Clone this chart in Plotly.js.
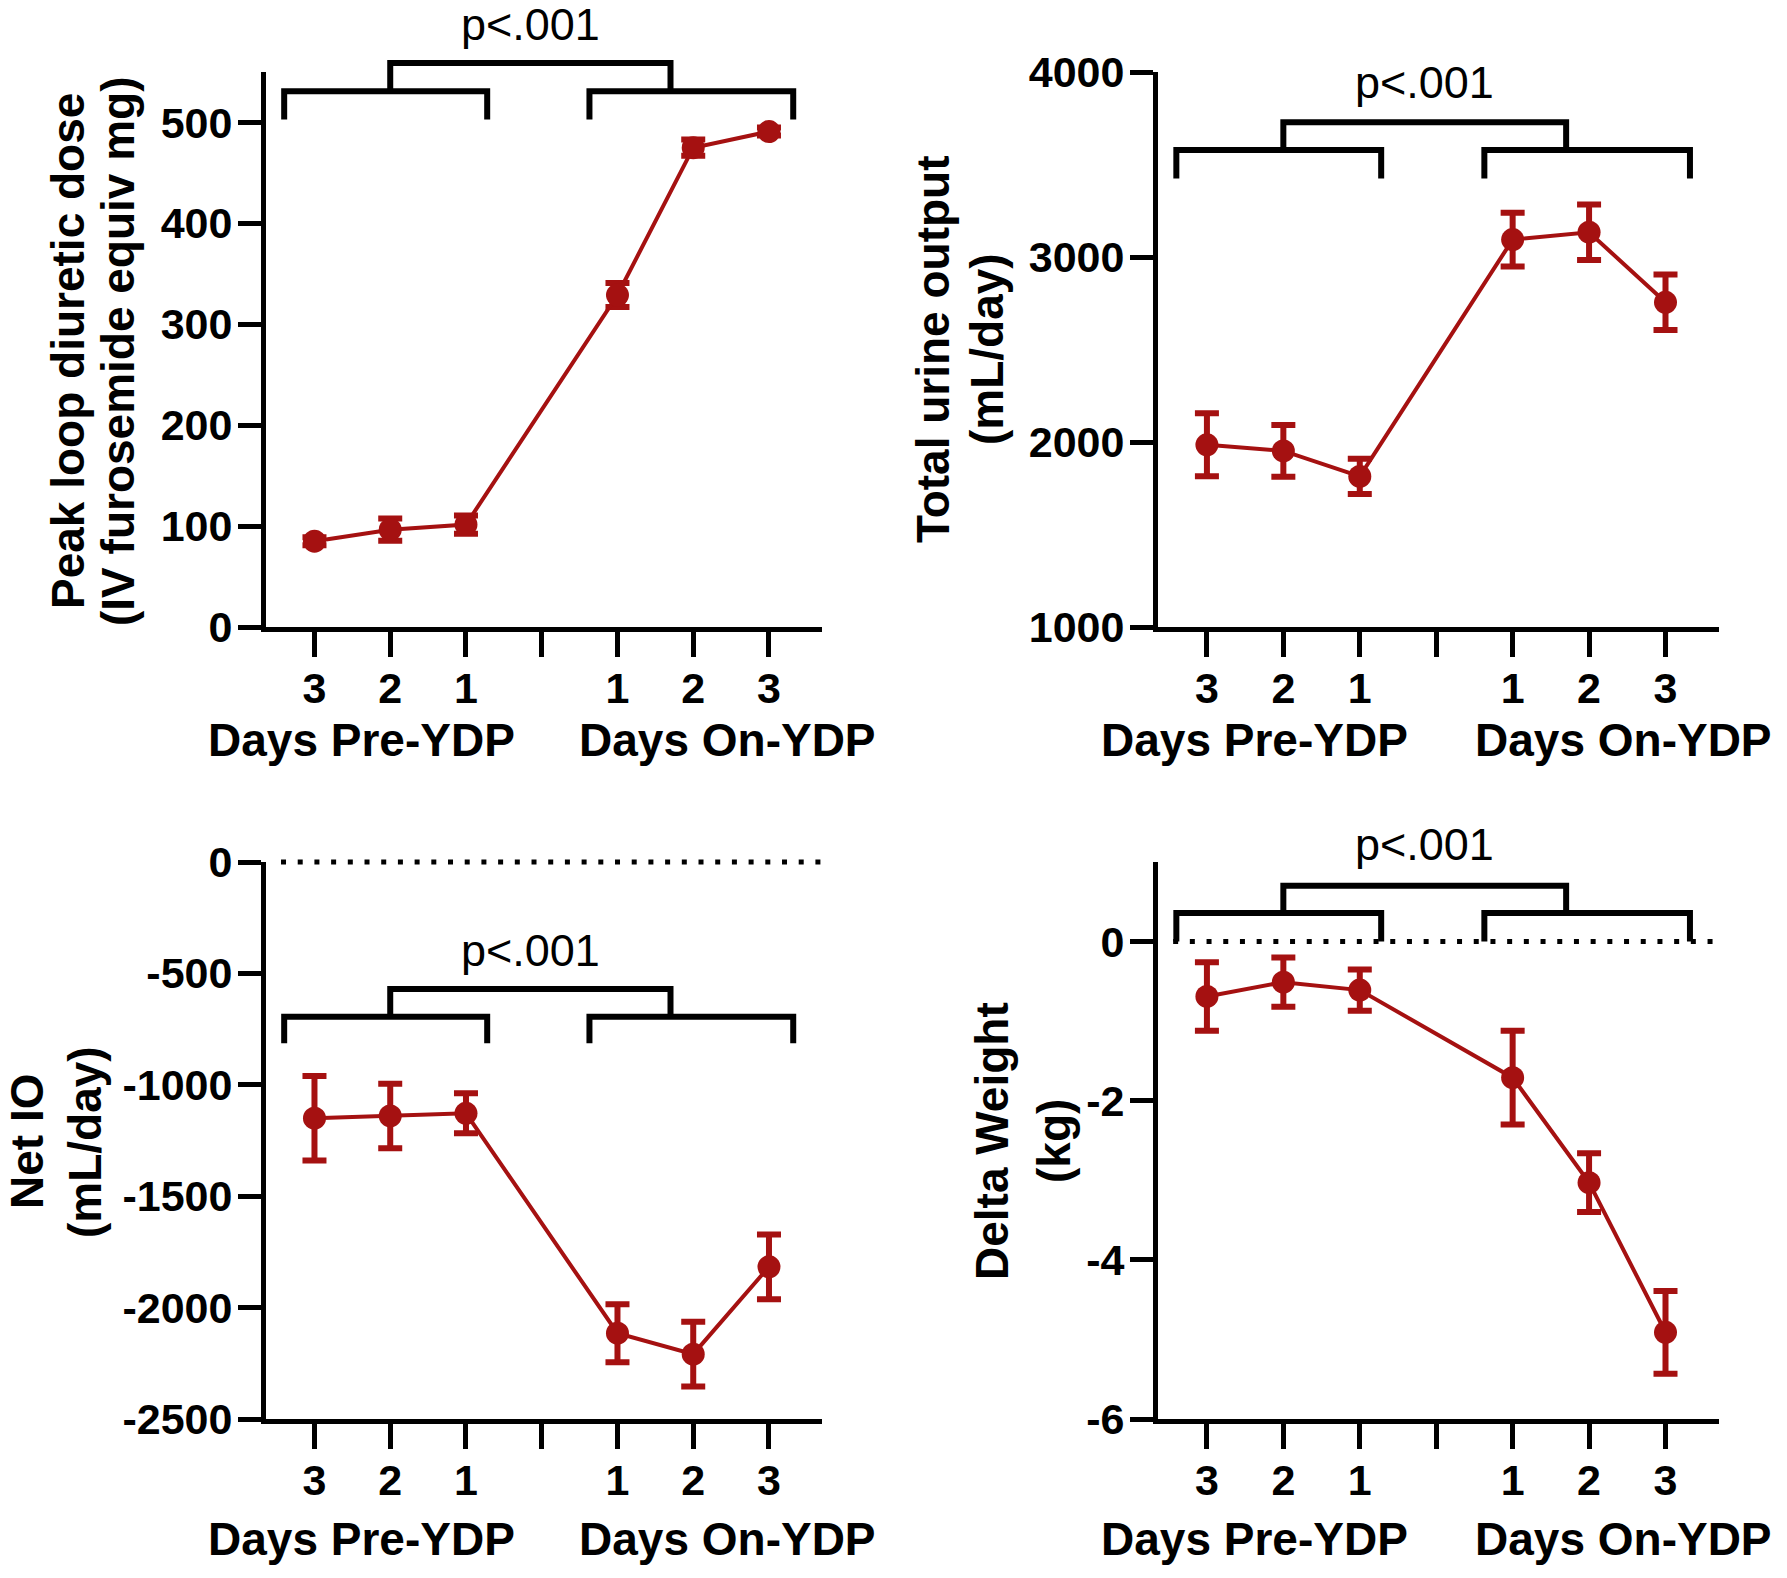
<!DOCTYPE html>
<html>
<head>
<meta charset="utf-8">
<script src="https://cdn.plot.ly/plotly-3.0.1.min.js"></script>
<style>
  html, body { margin: 0; padding: 0; background: #fff; }
  #graph { width: 1787px; height: 1578px; }
</style>
</head>
<body>
<div id="graph"></div>
<script>
var W = 1787, H = 1578;

// day axis: 4 is the empty gap between the two groups
var dayX = [1, 2, 3, 5, 6, 7];
var dayTicks = [1, 2, 3, 4, 5, 6, 7];
var dayLabels = ['3', '2', '1', '', '1', '2', '3'];
var groupNames = ['Days Pre-YDP', 'Days On-YDP'];
var groupCenters = [1.62, 6.45];
var pText = 'p<.001';

// panel A: peak loop diuretic dose
var doseMean = [85, 96.4, 101.5, 329, 475, 491];
var doseErr = [4, 11, 9, 12, 8, 4];
var doseTicks = [0, 100, 200, 300, 400, 500];
var doseTickText = ['0', '100', '200', '300', '400', '500'];

// panel B: total urine output
var urineMean = [1985, 1952, 1814, 3094, 3134, 2755];
var urineErr = [170, 140, 95, 145, 150, 150];
var urineTicks = [1000, 2000, 3000, 4000];
var urineTickText = ['1000', '2000', '3000', '4000'];

// panel C: net IO
var netMean = [-1150, -1140, -1128, -2115, -2209, -1817];
var netErr = [190, 145, 90, 130, 145, 145];
var netTicks = [-2500, -2000, -1500, -1000, -500, 0];
var netTickText = ['-2500', '-2000', '-1500', '-1000', '-500', '0'];

// panel D: delta weight
var wtMean = [-0.69, -0.51, -0.61, -1.71, -3.03, -4.91];
var wtErr = [0.43, 0.31, 0.26, 0.59, 0.37, 0.52];
var wtTicks = [-6, -4, -2, 0];
var wtTickText = ['-6', '-4', '-2', '0'];

var red = '#a51111';
var FONT = '"Liberation Sans", Arial, Helvetica, sans-serif';
var xRange = [0.36, 7.7];

var colL = [266 / W, 822 / W];
var colR = [1158 / W, 1719 / W];
var rowT = [1 - 627 / H, 1 - 72 / H];
var rowB = [1 - 1419 / H, 1 - 862 / H];

var panels = [
  { n: '', xd: colL, yd: rowT, mean: doseMean, err: doseErr, yr: [0, 550],
    yt: doseTicks, ytt: doseTickText, brk: [503, 531, 559], pY: 597, zero: false, gy: 740,
    titles: [['Peak loop diuretic dose', 68, 351], ['(IV furosemide equiv mg)', 118, 351]] },
  { n: '2', xd: colR, yd: rowT, mean: urineMean, err: urineErr, yr: [1000, 4000],
    yt: urineTicks, ytt: urineTickText, brk: [3424, 3579, 3729], pY: 3941, zero: false, gy: 740,
    titles: [['Total urine output', 933, 349], ['(mL/day)', 987, 349]] },
  { n: '3', xd: colL, yd: rowB, mean: netMean, err: netErr, yr: [-2500, 0],
    yt: netTicks, ytt: netTickText, brk: [-813, -695, -570], pY: -397, zero: true, gy: 1539,
    titles: [['Net IO', 27, 1142], ['(mL/day)', 85, 1142]] },
  { n: '4', xd: colR, yd: rowB, mean: wtMean, err: wtErr, yr: [-6, 1],
    yt: wtTicks, ytt: wtTickText, brk: [0.0, 0.36, 0.70], pY: 1.22, zero: true, gy: 1539,
    titles: [['Delta Weight', 992, 1141], ['(kg)', 1054, 1141]] }
];

// brackets (in day units)
var brLeft = [0.6, 3.28];
var brRight = [4.63, 7.32];
var brTop = [2.0, 5.7];

var data = [];
var shapes = [];
var annotations = [];
var layout = {
  width: W, height: H,
  margin: { l: 0, r: 0, t: 0, b: 0 },
  paper_bgcolor: '#fff', plot_bgcolor: '#fff',
  showlegend: false,
  font: { family: FONT, color: '#000' }
};

function fx(v) { return (v - xRange[0]) / (xRange[1] - xRange[0]); }

panels.forEach(function (p) {
  var xa = 'x' + p.n, ya = 'y' + p.n;
  data.push({
    x: dayX, y: p.mean, xaxis: xa, yaxis: ya,
    type: 'scatter', mode: 'lines+markers', cliponaxis: false,
    line: { color: red, width: 4 },
    marker: { color: red, size: 23, symbol: 'circle' },
    error_y: { type: 'data', array: p.err, visible: true, color: red, thickness: 6, width: 12 }
  });

  layout['xaxis' + p.n] = {
    domain: p.xd, anchor: ya, range: xRange,
    showline: true, linewidth: 5, linecolor: '#000',
    ticks: 'outside', ticklen: 25, tickwidth: 5, tickcolor: '#000',
    tickmode: 'array', tickvals: dayTicks, ticktext: dayLabels,
    ticklabelstandoff: -6,
    tickfont: { family: FONT, size: 43, color: '#000', weight: 'bold' },
    showgrid: false, zeroline: false, fixedrange: true
  };
  layout['yaxis' + p.n] = {
    domain: p.yd, anchor: xa, range: p.yr,
    showline: true, linewidth: 5, linecolor: '#000',
    ticks: 'outside', ticklen: 23, tickwidth: 5, tickcolor: '#000',
    tickmode: 'array', tickvals: p.yt, ticktext: p.ytt,
    ticklabelstandoff: -3,
    tickfont: { family: FONT, size: 43, color: '#000', weight: 'bold' },
    showgrid: false, zeroline: false, fixedrange: true
  };

  function fy(v) { return (v - p.yr[0]) / (p.yr[1] - p.yr[0]); }
  function py(v) { return p.yd[0] + fy(v) * (p.yd[1] - p.yd[0]); }
  var xd = xa + ' domain', yd = ya + ' domain';

  // dotted zero line
  if (p.zero) {
    shapes.push({
      type: 'line', xref: xd, yref: yd, x0: 0.027, x1: 1, y0: fy(0), y1: fy(0),
      line: { color: '#000', width: 5, dash: '5px,11.7px' }
    });
  }

  // group brackets and the bracket joining them
  [[brLeft, p.brk[0], p.brk[1]], [brRight, p.brk[0], p.brk[1]], [brTop, p.brk[1], p.brk[2]]].forEach(function (b) {
    var a = fx(b[0][0]), c = fx(b[0][1]), lo = fy(b[1]), hi = fy(b[2]);
    shapes.push({
      type: 'path', xref: xd, yref: yd,
      path: 'M' + a + ',' + lo + ' L' + a + ',' + hi + ' L' + c + ',' + hi + ' L' + c + ',' + lo,
      line: { color: '#000', width: 6 }
    });
  });

  annotations.push({
    xref: xa, yref: 'paper', x: (brTop[0] + brTop[1]) / 2, y: py(p.pY),
    text: pText, showarrow: false, xanchor: 'center', yanchor: 'middle',
    font: { family: FONT, size: 45, color: '#000' }
  });

  // group names under the axis
  groupNames.forEach(function (g, i) {
    annotations.push({
      xref: xa, yref: 'paper', x: groupCenters[i], y: 1 - p.gy / H,
      text: g, showarrow: false, xanchor: 'center', yanchor: 'middle',
      font: { family: FONT, size: 46, color: '#000', weight: 'bold' }
    });
  });

  // y titles, one annotation per line
  p.titles.forEach(function (t) {
    annotations.push({
      xref: 'paper', yref: 'paper', x: t[1] / W, y: 1 - t[2] / H,
      text: t[0], textangle: -90, showarrow: false,
      xanchor: 'center', yanchor: 'middle',
      font: { family: FONT, size: 46, color: '#000', weight: 'bold' }
    });
  });
});

layout.shapes = shapes;
layout.annotations = annotations;

Plotly.newPlot('graph', data, layout, { staticPlot: true, displayModeBar: false });
</script>
</body>
</html>
